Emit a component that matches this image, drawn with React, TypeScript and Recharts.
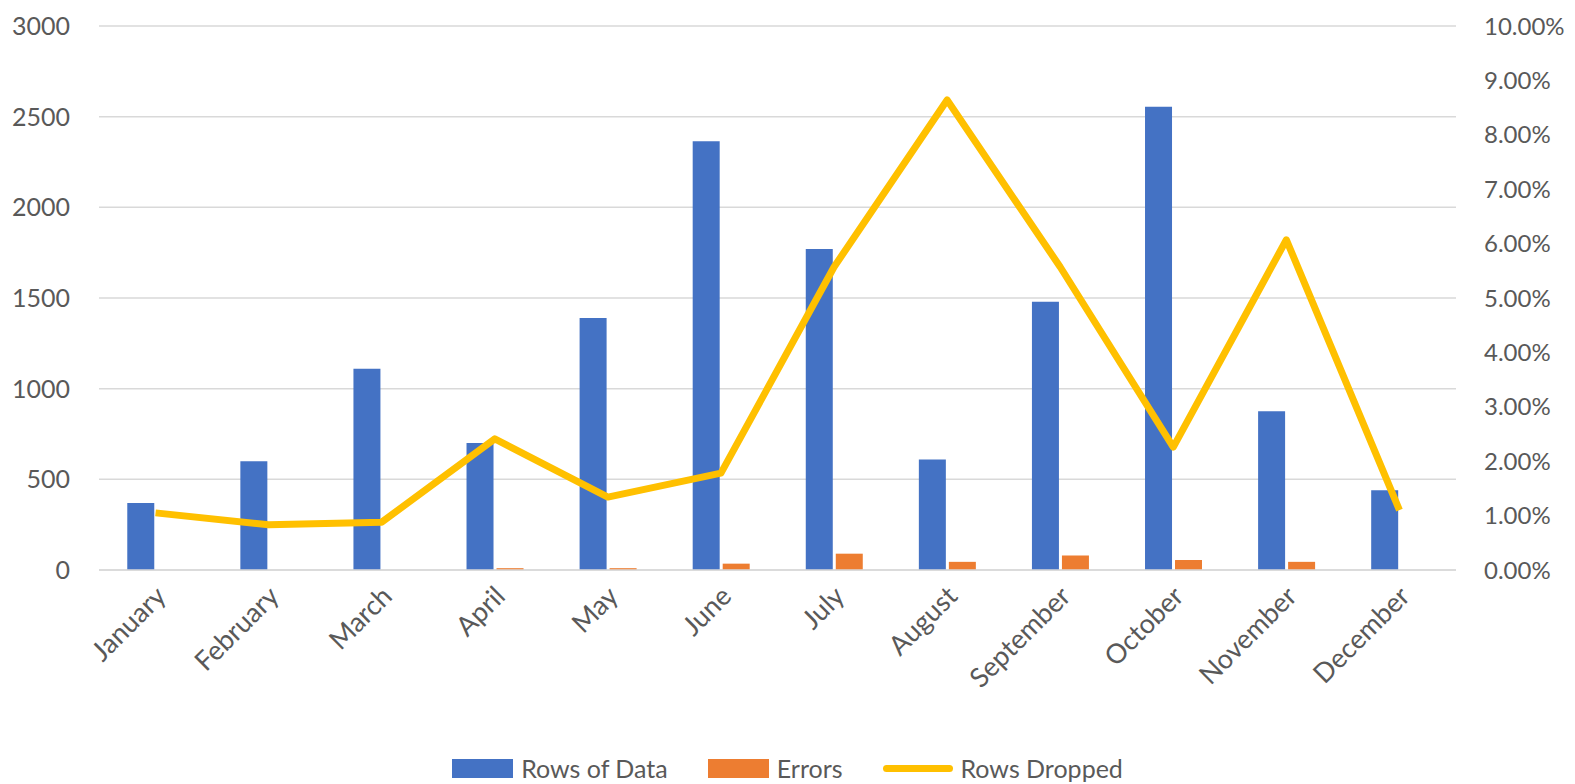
import React from 'react';
import { Bar, CartesianGrid, ComposedChart, Legend, Line, XAxis, YAxis } from 'recharts';

const months = [
  'January', 'February', 'March', 'April', 'May', 'June',
  'July', 'August', 'September', 'October', 'November', 'December',
];
const rowsOfData = [370, 600, 1110, 700, 1390, 2365, 1770, 610, 1480, 2555, 875, 440];
const errors = [0, 0, 0, 10, 10, 35, 90, 45, 80, 55, 45, 0];
// percent values
const rowsDropped = [1.05, 0.83, 0.88, 2.41, 1.34, 1.78, 5.57, 8.64, 5.57, 2.26, 6.07, 1.1];

const leftTicks = [0, 500, 1000, 1500, 2000, 2500, 3000];
const rightTicks = [0, 1, 2, 3, 4, 5, 6, 7, 8, 9, 10];

const data = months.map((m, i) => ({
  month: m,
  rows: rowsOfData[i],
  errors: errors[i],
  dropped: rowsDropped[i],
}));

const FONT = 'Lato, "Open Sans", sans-serif';
const TEXT = '#595959';

function MonthTick({ x, y, payload }: any) {
  return (
    <text
      x={0}
      y={0}
      transform={`translate(${x + 12},${y + 26}) rotate(-45)`}
      textAnchor="end"
      fill={TEXT}
      fontSize={27}
      fontFamily={FONT}
    >
      {payload.value}
    </text>
  );
}

function ChartLegend() {
  const item = { display: 'flex', alignItems: 'center', marginRight: 40 } as const;
  const label = { marginLeft: 8, fontSize: 25, color: TEXT, fontFamily: FONT } as const;
  return (
    <div style={{ display: 'flex', justifyContent: 'center', alignItems: 'center', height: 40, paddingTop: 8, boxSizing: 'border-box' }}>
      <div style={item}>
        <div style={{ width: 61, height: 19, background: '#4472C4' }} />
        <span style={label}>Rows of Data</span>
      </div>
      <div style={item}>
        <div style={{ width: 61, height: 19, background: '#ED7D31' }} />
        <span style={label}>Errors</span>
      </div>
      <div style={{ ...item, marginRight: 0 }}>
        <div style={{ width: 70, height: 7, borderRadius: 4, background: '#FFC000' }} />
        <span style={label}>Rows Dropped</span>
      </div>
    </div>
  );
}

export default function App() {
  return (
    <div style={{ position: 'absolute', left: 0, top: 0 }}>
      <ComposedChart
        width={1575}
        height={784}
        data={data}
        margin={{ top: 26, right: 0, bottom: 0, left: 0 }}
        barCategoryGap="25%"
        barGap={3}
      >
        <CartesianGrid vertical={false} stroke="#D9D9D9" strokeWidth={1.5} yAxisId="left" />
        <XAxis
          dataKey="month"
          height={174}
          interval={0}
          tick={<MonthTick />}
          tickLine={false}
          tickSize={0}
          axisLine={{ stroke: '#D9D9D9', strokeWidth: 1.5 }}
        />
        <YAxis
          yAxisId="left"
          width={99}
          domain={[0, 3000]}
          ticks={leftTicks}
          tickLine={false}
          axisLine={false}
          tickSize={0}
          tickMargin={29}
          tick={{ fill: TEXT, fontSize: 25, fontFamily: FONT }}
        />
        <YAxis
          yAxisId="right"
          orientation="right"
          width={119}
          domain={[0, 10]}
          ticks={rightTicks}
          tickFormatter={(v: number) => v.toFixed(2) + '%'}
          tickLine={false}
          axisLine={false}
          tickSize={0}
          tickMargin={28}
          tick={{ fill: TEXT, fontSize: 24, fontFamily: FONT, textAnchor: 'start' }}
        />
        <Legend verticalAlign="bottom" content={<ChartLegend />} />
        <Bar yAxisId="left" dataKey="rows" name="Rows of Data" fill="#4472C4" isAnimationActive={false} />
        <Bar yAxisId="left" dataKey="errors" name="Errors" fill="#ED7D31" isAnimationActive={false} />
        <Line
          yAxisId="right"
          type="linear"
          dataKey="dropped"
          name="Rows Dropped"
          stroke="#FFC000"
          strokeWidth={7}
          strokeLinejoin="round"
          dot={false}
          activeDot={false}
          isAnimationActive={false}
        />
      </ComposedChart>
    </div>
  );
}
